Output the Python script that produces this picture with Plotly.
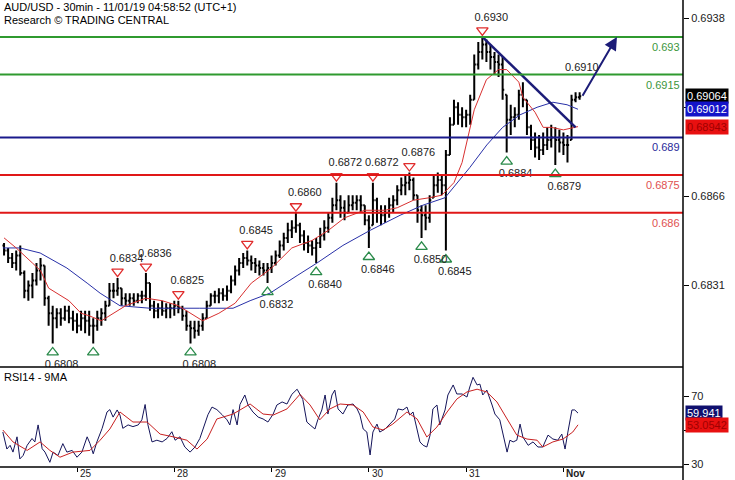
import plotly.graph_objects as go

# ---------------- data ----------------
bar_hours = list(range(6, 149))  # trading hours since Oct 24 00:00 (weekend skipped)

bar_high = [0.6848,0.6846,0.6844,0.6845,0.6847,0.6837,0.6833,0.6836,0.6840,0.6842,
            0.6839,0.6827,0.6823,0.6822,0.6822,0.6823,0.6823,0.6821,0.6820,0.6821,
            0.6821,0.6821,0.6818,0.6821,0.6822,0.6825,0.6832,0.6832,0.6834,0.6830,
            0.6828,0.6828,0.6828,0.6828,0.6829,0.6836,0.6832,0.6825,0.6824,0.6825,
            0.6824,0.6824,0.6825,0.6825,0.6823,0.6821,0.6817,0.6817,0.6817,0.6820,
            0.6825,0.6828,0.6829,0.6830,0.6830,0.6831,0.6835,0.6839,0.6842,0.6844,
            0.6845,0.6843,0.6842,0.6841,0.6840,0.6840,0.6843,0.6845,0.6849,0.6852,
            0.6856,0.6857,0.6860,0.6856,0.6853,0.6851,0.6849,0.6850,0.6854,0.6857,
            0.6860,0.6866,0.6872,0.6867,0.6865,0.6867,0.6867,0.6867,0.6867,0.6863,
            0.6859,0.6872,0.6866,0.6863,0.6863,0.6866,0.6867,0.6871,0.6874,0.6875,
            0.6876,0.6874,0.6867,0.6863,0.6863,0.6867,0.6875,0.6876,0.6875,0.6885,
            0.6898,0.6905,0.6904,0.6902,0.6901,0.6907,0.6923,0.6928,0.6930,0.6929,
            0.6927,0.6924,0.6923,0.6922,0.6907,0.6903,0.6902,0.6909,0.6912,0.6905,
            0.6895,0.6892,0.6891,0.6892,0.6894,0.6895,0.6894,0.6893,0.6892,0.6891,
            0.6907,0.6908,0.6908]

bar_low = [0.6843,0.6840,0.6838,0.6837,0.6835,0.6826,0.6825,0.6826,0.6831,0.6833,
           0.6823,0.6815,0.6808,0.6814,0.6815,0.6817,0.6816,0.6813,0.6812,0.6813,
           0.6812,0.6811,0.6808,0.6813,0.6815,0.6817,0.6823,0.6826,0.6827,0.6823,
           0.6823,0.6823,0.6823,0.6824,0.6824,0.6825,0.6821,0.6818,0.6818,0.6819,
           0.6818,0.6818,0.6819,0.6820,0.6817,0.6813,0.6808,0.6810,0.6811,0.6813,
           0.6818,0.6823,0.6824,0.6824,0.6825,0.6825,0.6828,0.6831,0.6835,0.6838,
           0.6839,0.6837,0.6836,0.6835,0.6835,0.6832,0.6836,0.6839,0.6842,0.6845,
           0.6848,0.6850,0.6852,0.6848,0.6845,0.6844,0.6843,0.6840,0.6846,0.6849,
           0.6852,0.6856,0.6861,0.6858,0.6857,0.6860,0.6861,0.6861,0.6860,0.6855,
           0.6846,0.6855,0.6856,0.6855,0.6856,0.6858,0.6860,0.6863,0.6867,0.6867,
           0.6869,0.6865,0.6856,0.6850,0.6853,0.6856,0.6866,0.6868,0.6867,0.6845,
           0.6883,0.6895,0.6895,0.6894,0.6894,0.6895,0.6905,0.6917,0.6921,0.6920,
           0.6917,0.6915,0.6914,0.6905,0.6884,0.6891,0.6894,0.6897,0.6902,0.6891,
           0.6885,0.6882,0.6881,0.6883,0.6885,0.6886,0.6879,0.6884,0.6883,0.6880,
           0.6889,0.6904,0.6905]

bar_close = [0.6845,0.6842,0.6840,0.6843,0.6836,0.6829,0.6831,0.6833,0.6837,0.6839,
             0.6826,0.6820,0.6818,0.6820,0.6818,0.6821,0.6818,0.6817,0.6815,0.6818,
             0.6817,0.6815,0.6815,0.6818,0.6820,0.6823,0.6829,0.6829,0.6830,0.6826,
             0.6825,0.6826,0.6825,0.6827,0.6827,0.6832,0.6823,0.6821,0.6822,0.6821,
             0.6822,0.6822,0.6823,0.6822,0.6819,0.6815,0.6814,0.6813,0.6815,0.6818,
             0.6823,0.6827,0.6827,0.6828,0.6827,0.6829,0.6833,0.6837,0.6840,0.6842,
             0.6841,0.6840,0.6839,0.6838,0.6837,0.6838,0.6840,0.6843,0.6847,0.6850,
             0.6853,0.6854,0.6855,0.6851,0.6848,0.6847,0.6846,0.6848,0.6851,0.6854,
             0.6858,0.6863,0.6865,0.6862,0.6860,0.6863,0.6864,0.6865,0.6863,0.6857,
             0.6854,0.6865,0.6860,0.6859,0.6860,0.6863,0.6865,0.6869,0.6871,0.6872,
             0.6873,0.6867,0.6861,0.6859,0.6858,0.6865,0.6871,0.6873,0.6871,0.6883,
             0.6895,0.6902,0.6899,0.6898,0.6899,0.6905,0.6919,0.6924,0.6927,0.6924,
             0.6922,0.6920,0.6919,0.6909,0.6897,0.6898,0.6899,0.6907,0.6905,0.6894,
             0.6889,0.6886,0.6885,0.6887,0.6889,0.6890,0.6889,0.6888,0.6887,0.6887,
             0.6905,0.6906,0.69064]
first_open = 0.6847

# moving averages on price
ma_red_t = [6,9,13,15,17,22,25,27,30,34,36,41,45,49,52,55,59,63,67,72,77,82,86,90,95,
            100,103,107,111,114,117,119,122,125,128,130,133,134,137,139,141,144,147.6]
ma_red_v = [0.6850,0.6846,0.6840,0.6837,0.6830,0.6825,0.6820,0.6819,0.6817,0.6821,0.6823,
            0.6826,0.6825,0.6823,0.6820,0.6817,0.6820,0.6824,0.6832,0.6838,0.6846,0.6849,
            0.6853,0.6858,0.6861,0.6861,0.6862,0.6865,0.6866,0.6867,0.6872,0.6880,0.6901,
            0.6913,0.6917,0.6917,0.6912,0.6906,0.6900,0.6894,0.6894,0.6893,0.68943]
ma_blue_t = [5.7,9.9,14.9,21.5,26.5,29.7,34.6,42,54.3,62.5,66.7,71.6,78.3,83.2,89.6,
             96.3,103.7,109.3,114.8,120.9,125.1,129,133.3,137.5,141.4,144.9,147.6]
ma_blue_v = [0.6846,0.6846,0.6844,0.6838,0.6832,0.6828,0.6823,0.6822,0.6822,0.6822,
             0.6825,0.6828,0.6835,0.6840,0.6847,0.6853,0.6859,0.6863,0.6866,0.6878,
             0.6887,0.6894,0.6899,0.6902,0.6904,0.6903,0.69012]

# swing highs / lows
swing_hi_t = [34, 41, 49, 66, 78, 88, 97, 106, 124]
swing_hi_v = [0.6834, 0.6836, 0.6825, 0.6845, 0.6860, 0.6872, 0.6872, 0.6876, 0.6930]
swing_lo_t = [18, 28, 52, 71, 83, 96, 109, 115, 130, 142]
swing_lo_v = [0.6808, 0.6808, 0.6808, 0.6832, 0.6840, 0.6846, 0.6850, 0.6845, 0.6884, 0.6879]
swing_lo_lbl = ["0.6808", "", "0.6808", "0.6832", "0.6840", "0.6846", "0.6850", "0.6845", "0.6884", "0.6879"]

# key levels
res_levels = [0.6930, 0.6915]
pivot_level = 0.6890
sup_levels = [0.6875, 0.6860]
level_labels = {0.6930: "0.693", 0.6915: "0.6915", 0.6890: "0.689", 0.6875: "0.6875", 0.6860: "0.686"}

# trendline and projected path
trend_t = [124, 147]
trend_v = [0.6930, 0.6894]
proj_t = [148.5, 157.2]
proj_v = [0.6906, 0.6930]
proj_label = "0.6910"

last_price = 0.69064
last_blue = 0.69012
last_red = 0.68943

# RSI (14) and its 9-period MA
rsi_t = [5.7,6.7,7.5,8.2,9.2,9.9,10.7,11.7,12.9,13.6,14.4,15.4,16.1,17.3,18.1,19.3,20.5,21.5,22.8,24.0,
         25.2,26.5,27.2,28.0,28.9,30.2,31.4,32.1,32.9,33.9,34.6,35.3,36.6,37.8,39.1,40.0,40.8,41.5,42.5,43.7,
         45.0,46.2,47.4,48.2,49.4,50.6,51.9,53.1,54.3,55.1,56.3,57.3,58.5,59.8,61.0,61.7,62.5,63.5,64.2,65.4,
         66.2,67.4,68.7,69.9,71.1,72.4,73.3,74.6,75.8,77.0,78.3,79.7,80.7,81.5,82.7,83.4,84.4,85.2,85.9,86.9,
         87.6,88.4,89.6,90.8,92.1,93.1,93.8,94.6,95.5,96.3,97.0,98.0,98.7,100.0,101.2,102.4,103.2,104.4,105.4,106.1,
         106.9,107.9,108.6,109.4,110.3,111.1,111.8,112.8,113.5,114.8,115.5,116.8,117.7,119.0,120.2,120.9,121.7,122.7,123.4,124.1,
         125.1,126.4,127.1,128.3,129.1,130.1,130.8,131.6,132.5,133.3,134.0,135.3,136.5,137.7,138.9,140.2,141.4,142.6,143.6,144.4,
         145.1,146.1,146.8,147.6]
rsi_v = [48.8,38.8,41,37,46,33,35,41,45,43,53,39,37,31,37,35,42,37,38,34,
         37,46,42,36,43,51,60.6,62,57.6,61.8,58.8,51,53,52,53,56,65,53,43,44,
         43,45,49,44,46,40,37,40,45,51,59,63.5,62,59,56,53,62,53,65,70.6,
         64.7,60.6,57.6,56.5,54.7,59.4,64.7,66.5,65.3,71,74,68,54.7,53,50.6,56,61.8,70.6,59.4,70.6,
         73.5,62.4,59.4,64.7,65.3,62.4,58.8,50.6,48.8,35.3,48.8,53.5,48.8,50.6,53.5,56.5,62.4,61.8,63.5,58.8,
         60.6,50.6,43,41,40,47,62.4,64.7,53,61.8,70.6,76.5,71.2,71.2,69.4,75.3,81,76.5,77,70.6,
         73.5,64.7,59.4,56,47.6,37,44,43,44,53.5,45.9,41,43,40,40,47,44.7,44,47.6,38.8,
         48.8,61.8,61.8,59.941]
rsi_ma_t = [5.7,8.2,11.7,14.9,17.3,19.8,23.0,27.2,29.7,32.1,34.6,37.8,41.3,44.5,47.7,51.1,53.6,56.1,58.5,62.5,
            66.7,69.9,72.4,75.8,79.0,81.5,83.9,86.4,88.9,92.1,94.6,97.0,99.5,101.9,105.4,107.9,110.3,112.8,115.3,117.7,
            120.2,122.7,125.1,127.6,130.1,132.5,135.0,137.5,138.9,141.4,143.9,146.3,147.6]
rsi_ma_v = [50,43,38,43,38,34,37,38,44,50.6,60.6,54.7,54.7,47.6,46,44,38.8,44.7,56.5,59.4,
            65.3,59.4,58.8,62.4,71,64.7,56,62.4,65.3,64.7,60.6,51.8,50,53.5,60.6,56.5,45.9,51.8,60.6,68.2,
            72.4,74,72.4,66.5,56.5,47,44.7,44,40,43,44.7,48.8,53.0542]

day_ticks = [24, 48, 72, 96, 120, 144]
day_labels = ["25", "28", "29", "30", "31", "<b>Nov</b>"]

price_ticks = [0.68310, 0.68665, 0.69020, 0.69375]
price_tick_text = ["0.6831", "0.6866", "", "0.6938"]

# ---------------- style ----------------
FONT = "Arial, Liberation Sans, sans-serif"
NAVY = "#1c1c78"
RED = "#e01818"
GREEN = "#2f9a2f"
PRICE_LO, PRICE_HI = 0.67986, 0.69447
RSI_LO, RSI_HI = 28.24, 87.06
SPLIT = 0.2141
HI_MARK_OFF = 0.00026
LO_MARK_OFF = 0.00036
HI_LBL_OFF = 0.00076
LO_LBL_OFF = 0.00088
LBL_DX = 2.2

opens = []
prev = first_open
for h, l, c in zip(bar_high, bar_low, bar_close):
    opens.append(min(max(prev, l), h))
    prev = c

fig = go.Figure()

# level lines
for lv in res_levels:
    fig.add_shape(type="line", xref="paper", x0=0, x1=1, yref="y", y0=lv, y1=lv,
                  line=dict(color=GREEN, width=2))
fig.add_shape(type="line", xref="paper", x0=0, x1=1, yref="y", y0=pivot_level, y1=pivot_level,
              line=dict(color="#1a1a8c", width=2))
for lv in sup_levels:
    fig.add_shape(type="line", xref="paper", x0=0, x1=1, yref="y", y0=lv, y1=lv,
                  line=dict(color=RED, width=2))

lvl_colors = {0.6930: "#3c963c", 0.6915: "#3c963c", 0.6890: "#2a2a9a", 0.6875: "#e05050", 0.6860: "#e05050"}
for lv, txt in level_labels.items():
    fig.add_annotation(x=1, xref="paper", y=lv, yref="y", text=txt, showarrow=False,
                       xanchor="right", yanchor="top", yshift=-2, xshift=-1,
                       font=dict(family=FONT, size=11, color=lvl_colors[lv]))

# price bars
fig.add_trace(go.Ohlc(x=bar_hours, open=opens, high=bar_high, low=bar_low, close=bar_close,
                      increasing=dict(line=dict(color="black", width=2)),
                      decreasing=dict(line=dict(color="black", width=2)),
                      tickwidth=0.4, xaxis="x", yaxis="y", hoverinfo="skip"))

# moving averages
fig.add_trace(go.Scatter(x=ma_blue_t, y=ma_blue_v, mode="lines", line=dict(color="#2830a8", width=1),
                         xaxis="x", yaxis="y", hoverinfo="skip"))
fig.add_trace(go.Scatter(x=ma_red_t, y=ma_red_v, mode="lines", line=dict(color="#d83030", width=1),
                         xaxis="x", yaxis="y", hoverinfo="skip"))

# trendline
fig.add_trace(go.Scatter(x=trend_t, y=trend_v, mode="lines", line=dict(color=NAVY, width=2.5),
                         xaxis="x", yaxis="y", hoverinfo="skip"))

# swing markers
fig.add_trace(go.Scatter(x=swing_hi_t, y=[v + HI_MARK_OFF for v in swing_hi_v], mode="markers",
                         marker=dict(symbol="triangle-down-open", size=10, color="#e02c2c", line=dict(width=1.3)),
                         xaxis="x", yaxis="y", hoverinfo="skip"))
fig.add_trace(go.Scatter(x=[t + LBL_DX for t in swing_hi_t], y=[v + HI_LBL_OFF for v in swing_hi_v],
                         mode="text", text=[f"{v:.4f}" for v in swing_hi_v], textposition="middle center",
                         textfont=dict(family=FONT, size=11, color="#222"),
                         xaxis="x", yaxis="y", hoverinfo="skip"))
fig.add_trace(go.Scatter(x=swing_lo_t, y=[v - LO_MARK_OFF for v in swing_lo_v], mode="markers",
                         marker=dict(symbol="triangle-up-open", size=10, color="#2a8a4a", line=dict(width=1.3)),
                         xaxis="x", yaxis="y", hoverinfo="skip"))
fig.add_trace(go.Scatter(x=[t + LBL_DX for t in swing_lo_t], y=[v - LO_LBL_OFF for v in swing_lo_v],
                         mode="text", text=swing_lo_lbl, textposition="middle center",
                         textfont=dict(family=FONT, size=11, color="#222"),
                         xaxis="x", yaxis="y", hoverinfo="skip"))

# projection arrow
fig.add_annotation(x=proj_t[1], y=proj_v[1], ax=proj_t[0], ay=proj_v[0], xref="x", yref="y",
                   axref="x", ayref="y", showarrow=True, arrowhead=2, arrowsize=1.3,
                   arrowwidth=2, arrowcolor=NAVY, text="")
fig.add_annotation(x=proj_t[0], y=0.6918, xref="x", yref="y", text=proj_label, showarrow=False,
                   font=dict(family=FONT, size=11, color="#222"))

# RSI
fig.add_trace(go.Scatter(x=rsi_t, y=rsi_v, mode="lines", line=dict(color="#14145a", width=1),
                         xaxis="x", yaxis="y2", hoverinfo="skip"))
fig.add_trace(go.Scatter(x=rsi_ma_t, y=rsi_ma_v, mode="lines", line=dict(color="#c82020", width=1),
                         xaxis="x", yaxis="y2", hoverinfo="skip"))

# frame lines
fig.add_shape(type="line", xref="paper", yref="paper", x0=0, x1=1, y0=SPLIT, y1=SPLIT,
              line=dict(color="black", width=1.5))
fig.add_shape(type="line", xref="paper", yref="paper", x0=0, x1=1, y0=0, y1=0,
              line=dict(color="black", width=1.5))
fig.add_shape(type="line", xref="paper", yref="paper", x0=1, x1=1, y0=-0.03, y1=1,
              line=dict(color="black", width=1.5))

# right value boxes
def box(y, yref, text, bg, fg):
    fig.add_annotation(x=1, xref="paper", y=y, yref=yref, text=text, showarrow=False,
                       xanchor="left", xshift=2, bgcolor=bg, borderpad=1,
                       font=dict(family=FONT, size=11, color=fg))

box(last_price, "y", f"{last_price:.5f}", "black", "white")
box(last_blue, "y", f"{last_blue:.5f}", "#1414c8", "white")
box(last_red, "y", f"{last_red:.5f}", "#e81010", "#a00000")
box(rsi_v[-1], "y2", f"{rsi_v[-1]:.3f}", "#10106e", "white")
box(rsi_ma_v[-1], "y2", f"{rsi_ma_v[-1]:.4f}", "#e81010", "#a00000")

# titles
fig.add_annotation(x=0, y=1, xref="paper", yref="paper", xanchor="left", yanchor="top", xshift=2, yshift=1,
                   text="AUD/USD - 30min - 11/01/19 04:58:52 (UTC+1)", showarrow=False,
                   font=dict(family=FONT, size=11, color="black"))
fig.add_annotation(x=0, y=1, xref="paper", yref="paper", xanchor="left", yanchor="top", xshift=2, yshift=-12,
                   text="Research © TRADING CENTRAL", showarrow=False,
                   font=dict(family=FONT, size=11, color="black"))
fig.add_annotation(x=0, y=SPLIT, xref="paper", yref="paper", xanchor="left", yanchor="top", xshift=2, yshift=-2,
                   text="RSI14 - 9MA", showarrow=False, font=dict(family=FONT, size=11, color="black"))

# day labels
for t, lbl in zip(day_ticks, day_labels):
    fig.add_annotation(x=t, xref="x", y=0, yref="paper", text=lbl, showarrow=False,
                       xanchor="left", yanchor="middle", xshift=1, yshift=-6,
                       font=dict(family=FONT, size=10, color="#222"))

fig.update_layout(
    width=735, height=480,
    margin=dict(l=0, r=52, t=0, b=13),
    paper_bgcolor="white", plot_bgcolor="white",
    showlegend=False,
    xaxis=dict(domain=[0, 1], range=[5.0, 173.5], anchor="y2", showgrid=False, zeroline=False,
               tickvals=day_ticks, showticklabels=False, ticks="outside", ticklen=4,
               tickcolor="black", rangeslider=dict(visible=False), showline=False),
    yaxis=dict(domain=[SPLIT, 1], range=[PRICE_LO, PRICE_HI], side="right", anchor="x",
               showgrid=False, zeroline=False, tickvals=price_ticks, ticktext=price_tick_text,
               ticks="outside", ticklen=5, tickcolor="black",
               tickfont=dict(family=FONT, size=11, color="#222")),
    yaxis2=dict(domain=[0, SPLIT], range=[RSI_LO, RSI_HI], side="right", anchor="x",
                showgrid=False, zeroline=False, tickvals=[30, 50, 70], ticktext=["30", "", "70"],
                ticks="outside", ticklen=5, tickcolor="black",
                tickfont=dict(family=FONT, size=11, color="#222")),
)

fig.write_html("out.html", config={"displayModeBar": False},
               post_script="document.body.style.margin='0px';document.body.style.overflow='hidden';")
